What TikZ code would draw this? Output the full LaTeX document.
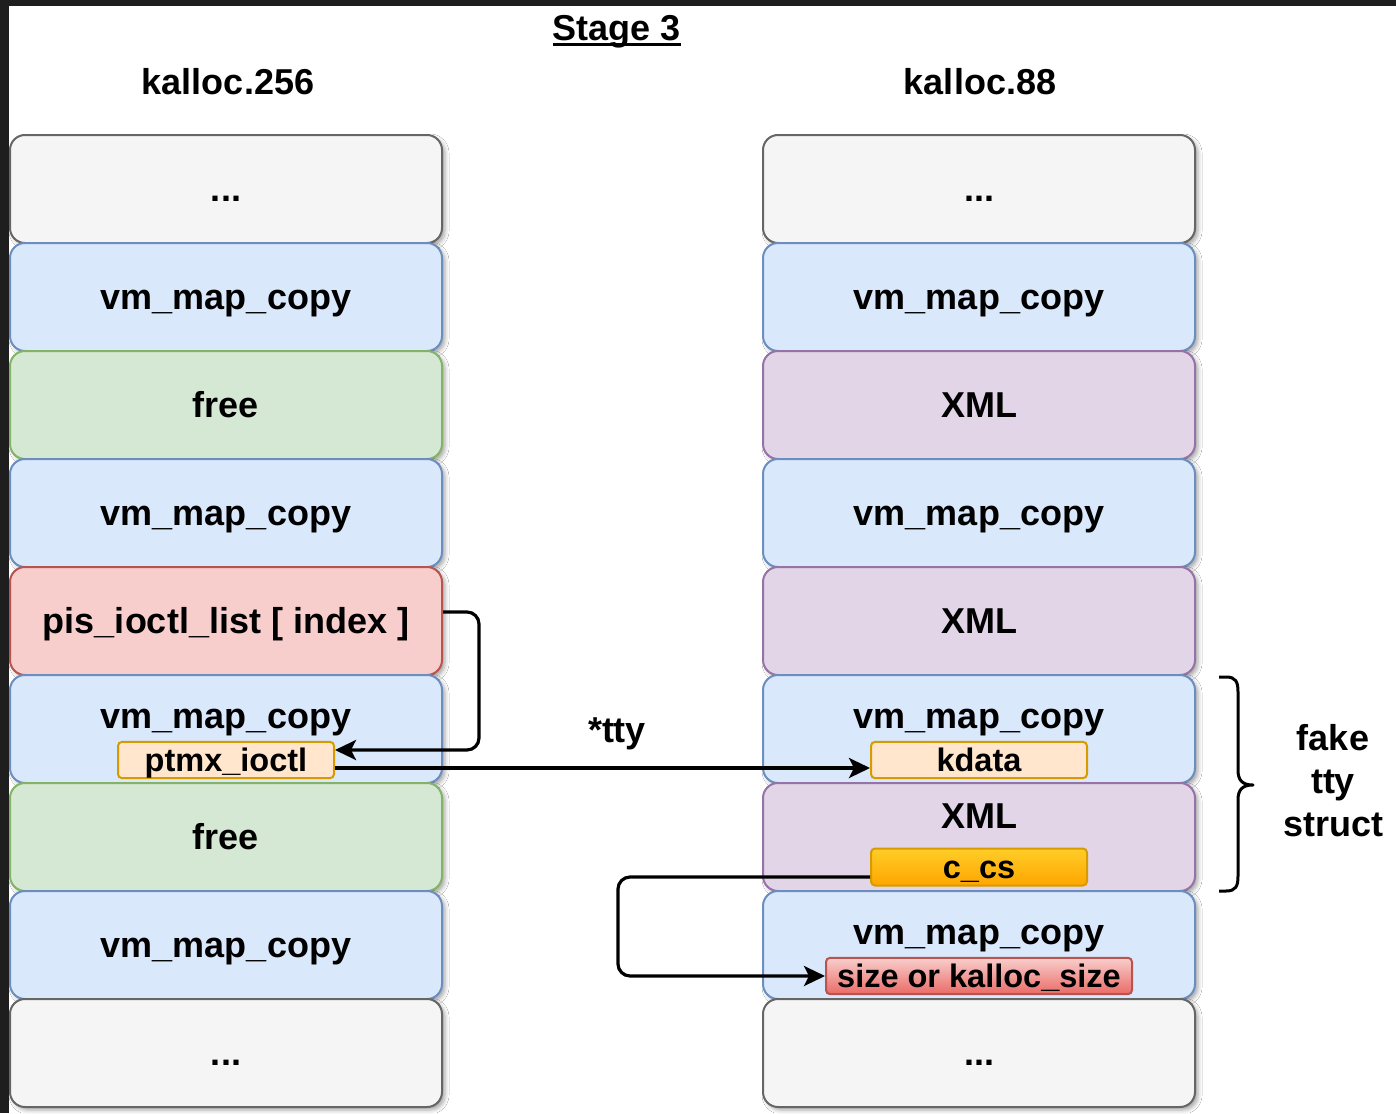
\documentclass[tikz,border=0pt]{standalone}
\usepackage{fontspec}
\setmainfont{Liberation Sans}
\usetikzlibrary{arrows.meta,shadows.blur}

\definecolor{frameDark}{HTML}{1E1E1E}
\definecolor{greyFill}{HTML}{F5F5F5}
\definecolor{greyLine}{HTML}{666666}
\definecolor{blueFill}{HTML}{DAE8FC}
\definecolor{blueLine}{HTML}{6C8EBF}
\definecolor{greenFill}{HTML}{D5E8D4}
\definecolor{greenLine}{HTML}{82B366}
\definecolor{redFill}{HTML}{F8CECC}
\definecolor{redLine}{HTML}{B85450}
\definecolor{purpleFill}{HTML}{E1D5E7}
\definecolor{purpleLine}{HTML}{9673A6}
\definecolor{peachFill}{HTML}{FFE6CC}
\definecolor{peachLine}{HTML}{D79B00}
\definecolor{goldTop}{HTML}{FFCD28}
\definecolor{goldBottom}{HTML}{FFA500}
\definecolor{roseTop}{HTML}{F8CECC}
\definecolor{roseBottom}{HTML}{EA6B66}

\begin{document}
\begin{tikzpicture}[x=1pt,y=-1pt,
  bigtext/.style={font=\bfseries\fontsize{36}{43}\selectfont, text height=32.6pt, text depth=7.6pt, inner sep=0pt},
  smalltext/.style={font=\bfseries\fontsize{32.5}{39}\selectfont, text height=29.4pt, text depth=6.9pt, inner sep=0pt},
  slot/.style={bigtext, draw, line width=2pt, rounded corners=15pt,
    minimum width=432pt, minimum height=108pt,
    blur shadow={shadow xshift=3pt, shadow yshift=-3pt, shadow blur radius=4pt, shadow opacity=35}},
  greyslot/.style={slot, fill=greyFill, draw=greyLine},
  blueslot/.style={slot, fill=blueFill, draw=blueLine},
  greenslot/.style={slot, fill=greenFill, draw=greenLine},
  redslot/.style={slot, fill=redFill, draw=redLine},
  purpleslot/.style={slot, fill=purpleFill, draw=purpleLine},
  field/.style={smalltext, line width=2pt, rounded corners=4pt, minimum height=36pt},
  label/.style={bigtext},
  conn/.style={line width=3.2pt, rounded corners=12pt,
    -{Stealth[length=21pt, width=20pt, inset=5pt]}},
]
% canvas with the dark frame on the top and left edges
\useasboundingbox (0,0) rectangle (1396,1113);
\fill[frameDark] (0,0) rectangle (1396,1113);
\fill[white] (9,6) rectangle (1396,1113);

% headings
\node[label] (title) at (617,28) {Stage 3};
\draw[line width=2.5pt] ([yshift=-4pt]title.base west) -- ([yshift=-4pt]title.base east);
\node[label] (lhead) at (228,82) {kalloc.256};
\node[label] (rhead) at (980,82) {kalloc.88};

% kalloc.256 zone
\node[greyslot]   (L0) at (226,189)  {...};
\node[blueslot]   (L1) at (226,297)  {vm\_map\_copy};
\node[greenslot]  (L2) at (226,405)  {free};
\node[blueslot]   (L3) at (226,513)  {vm\_map\_copy};
\node[redslot]    (L4) at (226,621)  {pis\_ioctl\_list [ index ]};
\node[blueslot]   (L5) at (226,729)  {};
\node[greenslot]  (L6) at (226,837)  {free};
\node[blueslot]   (L7) at (226,945)  {vm\_map\_copy};
\node[greyslot]   (L8) at (226,1053) {...};

\node[label] (L5text) at (226,716) {vm\_map\_copy};
\node[field, fill=peachFill, draw=peachLine, minimum width=216pt] (ptmx) at (226,760) {ptmx\_ioctl};

% kalloc.88 zone
\node[greyslot]   (R0) at (979,189)  {...};
\node[blueslot]   (R1) at (979,297)  {vm\_map\_copy};
\node[purpleslot] (R2) at (979,405)  {XML};
\node[blueslot]   (R3) at (979,513)  {vm\_map\_copy};
\node[purpleslot] (R4) at (979,621)  {XML};
\node[blueslot]   (R5) at (979,729)  {};
\node[purpleslot] (R6) at (979,837)  {};
\node[blueslot]   (R7) at (979,945)  {};
\node[greyslot]   (R8) at (979,1053) {...};

\node[label] (R5text) at (979,716) {vm\_map\_copy};
\node[field, fill=peachFill, draw=peachLine, minimum width=216pt] (kdata) at (979,760) {kdata};
\node[label] (R6text) at (979,816) {XML};
\node[field, top color=goldTop, bottom color=goldBottom, draw=peachLine, minimum width=216pt, minimum height=37pt] (ccs) at (979,867) {c\_cs};
\node[label] (R7text) at (979,932) {vm\_map\_copy};
\node[field, top color=roseTop, bottom color=roseBottom, draw=redLine, minimum width=306pt] (size) at (979,976) {size or kalloc\_size};

% pointers
\draw[conn] ([yshift=9pt]L4.east) -- ++(36,0) |- ([yshift=10pt]ptmx.east);
\draw[conn] ([yshift=-8pt]ptmx.east) -- ([yshift=-8pt]kdata.west);
\node[label] (tty) at (617,730) {*tty};
\draw[conn] ([yshift=-10pt]ccs.west) -- ++(-252,0) |- (size.west);

% brace over the fake tty struct
\draw[line width=3pt, line join=round]
  (1219,677) -- (1226,677) .. controls (1236,677) and (1238,682) .. (1238,692)
  -- (1238,770) .. controls (1238,780) and (1242,785) .. (1253,785)
  .. controls (1242,785) and (1238,790) .. (1238,800)
  -- (1238,876) .. controls (1238,886) and (1236,891) .. (1226,891) -- (1219,891);
\node[align=center, inner sep=0pt, font=\bfseries\fontsize{36}{43}\selectfont] (fake) at (1333,781) {fake\\tty\\struct};
\end{tikzpicture}
\end{document}
